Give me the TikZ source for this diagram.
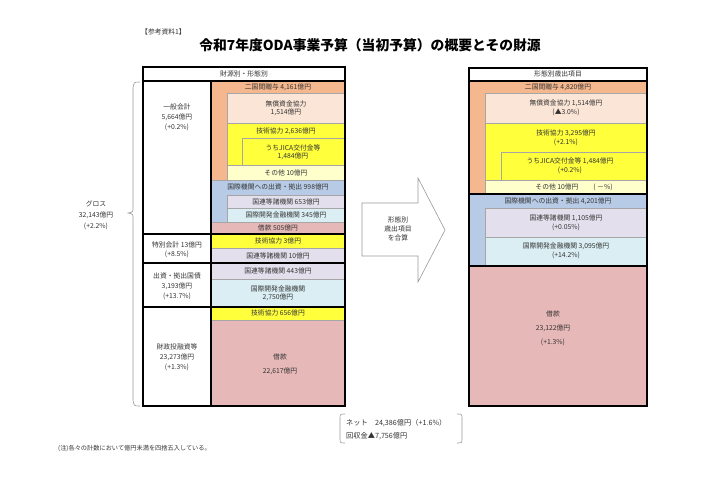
\documentclass[tikz,border=0pt]{standalone}
\usepackage{fontspec}
\setmainfont{Noto Sans CJK JP}
\definecolor{odaOrange}{HTML}{F5B78E}
\definecolor{odaPeach}{HTML}{FBE5D6}
\definecolor{odaYellow}{HTML}{FFFF3C}
\definecolor{odaCream}{HTML}{FFFFCC}
\definecolor{odaBlue}{HTML}{B7CBE6}
\definecolor{odaLav}{HTML}{E4DFEC}
\definecolor{odaCyan}{HTML}{DAEEF3}
\definecolor{odaPink}{HTML}{E6B8B7}
\begin{document}
\begin{tikzpicture}[x=1pt,y=-1pt,
  every node/.style={font=\fontsize{6.8}{8}\selectfont,text=black!80,inner sep=0pt,align=center},
  cell/.style={draw=gray!70,line width=0.4pt},
  sectline/.style={line width=1.4pt},
  grayline/.style={draw=gray!80,line width=0.6pt}]
  \useasboundingbox (0,0) rectangle (701,485);
  % Title
  \node (ref) [anchor=west,font=\fontsize{6.8}{7}\selectfont] at (141,32) {【参考資料1】};
  \node (title) [font=\bfseries\fontsize{13.8}{15}\selectfont,text=black] at (370,45) {令和7年度ODA事業予算（当初予算）の概要とその財源};

  % Left table
  \filldraw[cell,fill=odaOrange] (211,81) rectangle (345,180);
  \filldraw[cell,fill=odaPeach] (227,93) rectangle (345,123);
  \filldraw[cell,fill=odaYellow] (227,123) rectangle (345,165);
  \filldraw[cell,fill=odaYellow] (242,138) rectangle (345,165);
  \filldraw[cell,fill=odaCream] (227,165) rectangle (345,180);
  \filldraw[cell,fill=odaBlue] (211,180) rectangle (345,222);
  \filldraw[cell,fill=odaLav] (227,195) rectangle (345,208);
  \filldraw[cell,fill=odaCyan] (227,208) rectangle (345,222);
  \filldraw[cell,fill=odaPink] (211,222) rectangle (345,234);
  \filldraw[cell,fill=odaYellow] (211,234) rectangle (345,248);
  \filldraw[cell,fill=odaLav] (211,248) rectangle (345,263);
  \filldraw[cell,fill=odaLav] (211,263) rectangle (345,279);
  \filldraw[cell,fill=odaCyan] (211,279) rectangle (345,307);
  \filldraw[cell,fill=odaYellow] (211,307) rectangle (345,320);
  \filldraw[cell,fill=odaPink] (211,320) rectangle (345,406);
  \draw[sectline,fill=white] (143,67) rectangle (345,81);
  \draw[sectline] (143,81) rectangle (345,406);
  \draw[sectline] (211,81) -- (211,406);
  \foreach \y in {234,263,307} \draw[sectline] (143,\y) -- (345,\y);

  \node (lhead) at (244,74) {財源別・形態別};
  \node (ippan) at (177,117) {一般会計\\[2pt]5,664億円\\[2pt](+0.2\%)};
  \node (tokubetsu) at (177,250) {特別会計 13億円\\[1pt](+8.5\%)};
  \node (kokusai) at (177,286) {出資・拠出国債\\[2pt]3,193億円\\[2pt](+13.7\%)};
  \node (zaitou) at (177,357) {財政投融資等\\[2pt]23,273億円\\[2pt](+1.3\%)};

  \node (lbilat) at (278,87) {二国間贈与 4,161億円};
  \node (lgrant) at (286,108) {無償資金協力\\1,514億円};
  \node (ltech) at (286,131) {技術協力 2,636億円};
  \node (ljica) at (293,152) {うちJICA交付金等\\1,484億円};
  \node (lother) at (286,173) {その他 10億円};
  \node (lintl) at (278,187) {国際機関への出資・拠出 998億円};
  \node (lun) at (286,202) {国連等諸機関 653億円};
  \node (lmdb) at (286,215) {国際開発金融機関 345億円};
  \node (lloan) at (278,228) {借款 505億円};
  \node (ltech2) at (278,241) {技術協力 3億円};
  \node (lun2) at (278,256) {国連等諸機関 10億円};
  \node (lun3) at (278,271) {国連等諸機関 443億円};
  \node (lmdb2) at (278,293) {国際開発金融機関\\2,750億円};
  \node (ltech3) at (278,313) {技術協力 656億円};
  \node (lloan2) at (280,364) {借款\\[6pt]22,617億円};

  % Gross brace
  \draw[grayline] (140,82) .. controls (134,82) .. (133,88) -- (133,208)
    .. controls (133,212) .. (128,213) .. controls (133,214) .. (133,218)
    -- (133,400) .. controls (134,406) .. (140,406);
  \node (gross) at (96,215) {グロス\\[3pt]32,143億円\\[3pt](+2.2\%)};

  % Arrow
  \draw[grayline,fill=white] (362,203) -- (418,203) -- (418,178) -- (445,230)
    -- (418,282) -- (418,256) -- (362,256) -- cycle;
  \node (sum) at (398,229) {形態別\\[1pt]歳出項目\\[1pt]を合算};

  % Right table
  \filldraw[cell,fill=odaOrange] (469,81) rectangle (647,194);
  \filldraw[cell,fill=odaPeach] (485,93) rectangle (647,123);
  \filldraw[cell,fill=odaYellow] (485,123) rectangle (647,180);
  \filldraw[cell,fill=odaYellow] (501,152) rectangle (647,180);
  \filldraw[cell,fill=odaCream] (485,180) rectangle (647,194);
  \filldraw[cell,fill=odaBlue] (469,194) rectangle (647,266);
  \filldraw[cell,fill=odaLav] (485,208) rectangle (647,237);
  \filldraw[cell,fill=odaCyan] (485,237) rectangle (647,266);
  \filldraw[cell,fill=odaPink] (469,266) rectangle (647,406);
  \draw[sectline,fill=white] (469,68) rectangle (647,81);
  \draw[sectline] (469,81) rectangle (647,406);
  \foreach \y in {194,266} \draw[sectline] (469,\y) -- (647,\y);

  \node (rhead) at (558,74) {形態別歳出項目};
  \node (rbilat) at (558,87) {二国間贈与 4,820億円};
  \node (rgrant) at (566,108) {無償資金協力 1,514億円\\[1pt](▲3.0\%)};
  \node (rtech) at (566,138) {技術協力 3,295億円\\[1pt](+2.1\%)};
  \node (rjica) at (570,166) {うちJICA交付金等 1,484億円\\[1pt](+0.2\%)};
  \node (rother) at (557,187) {その他 10億円};
  \node (rotherp) at (603,187) {( －\%)};
  \node (rintl) at (558,201) {国際機関への出資・拠出 4,201億円};
  \node (run) at (566,223) {国連等諸機関 1,105億円\\[1pt](+0.05\%)};
  \node (rmdb) at (566,251) {国際開発金融機関 3,095億円\\[1pt](+14.2\%)};
  \node (rloan) at (553,328) {借款\\[6pt]23,122億円\\[6pt](+1.3\%)};

  % Net
  \draw[grayline] (345,414) .. controls (340,414) .. (340,419) -- (340,438)
    .. controls (340,443) .. (345,443);
  \draw[grayline] (457,414) .. controls (462,414) .. (462,419) -- (462,438)
    .. controls (462,443) .. (457,443);
  \node (net) [anchor=west,font=\fontsize{7.2}{8}\selectfont] at (346,423) {ネット\quad 24,386億円（+1.6\%）};
  \node (recov) [anchor=west,font=\fontsize{7.2}{8}\selectfont] at (346,436) {回収金▲7,756億円};

  % Note
  \node (note) [anchor=west,font=\fontsize{6.2}{7}\selectfont] at (58,448) {(注)各々の計数において億円未満を四捨五入している。};
\end{tikzpicture}
\end{document}
